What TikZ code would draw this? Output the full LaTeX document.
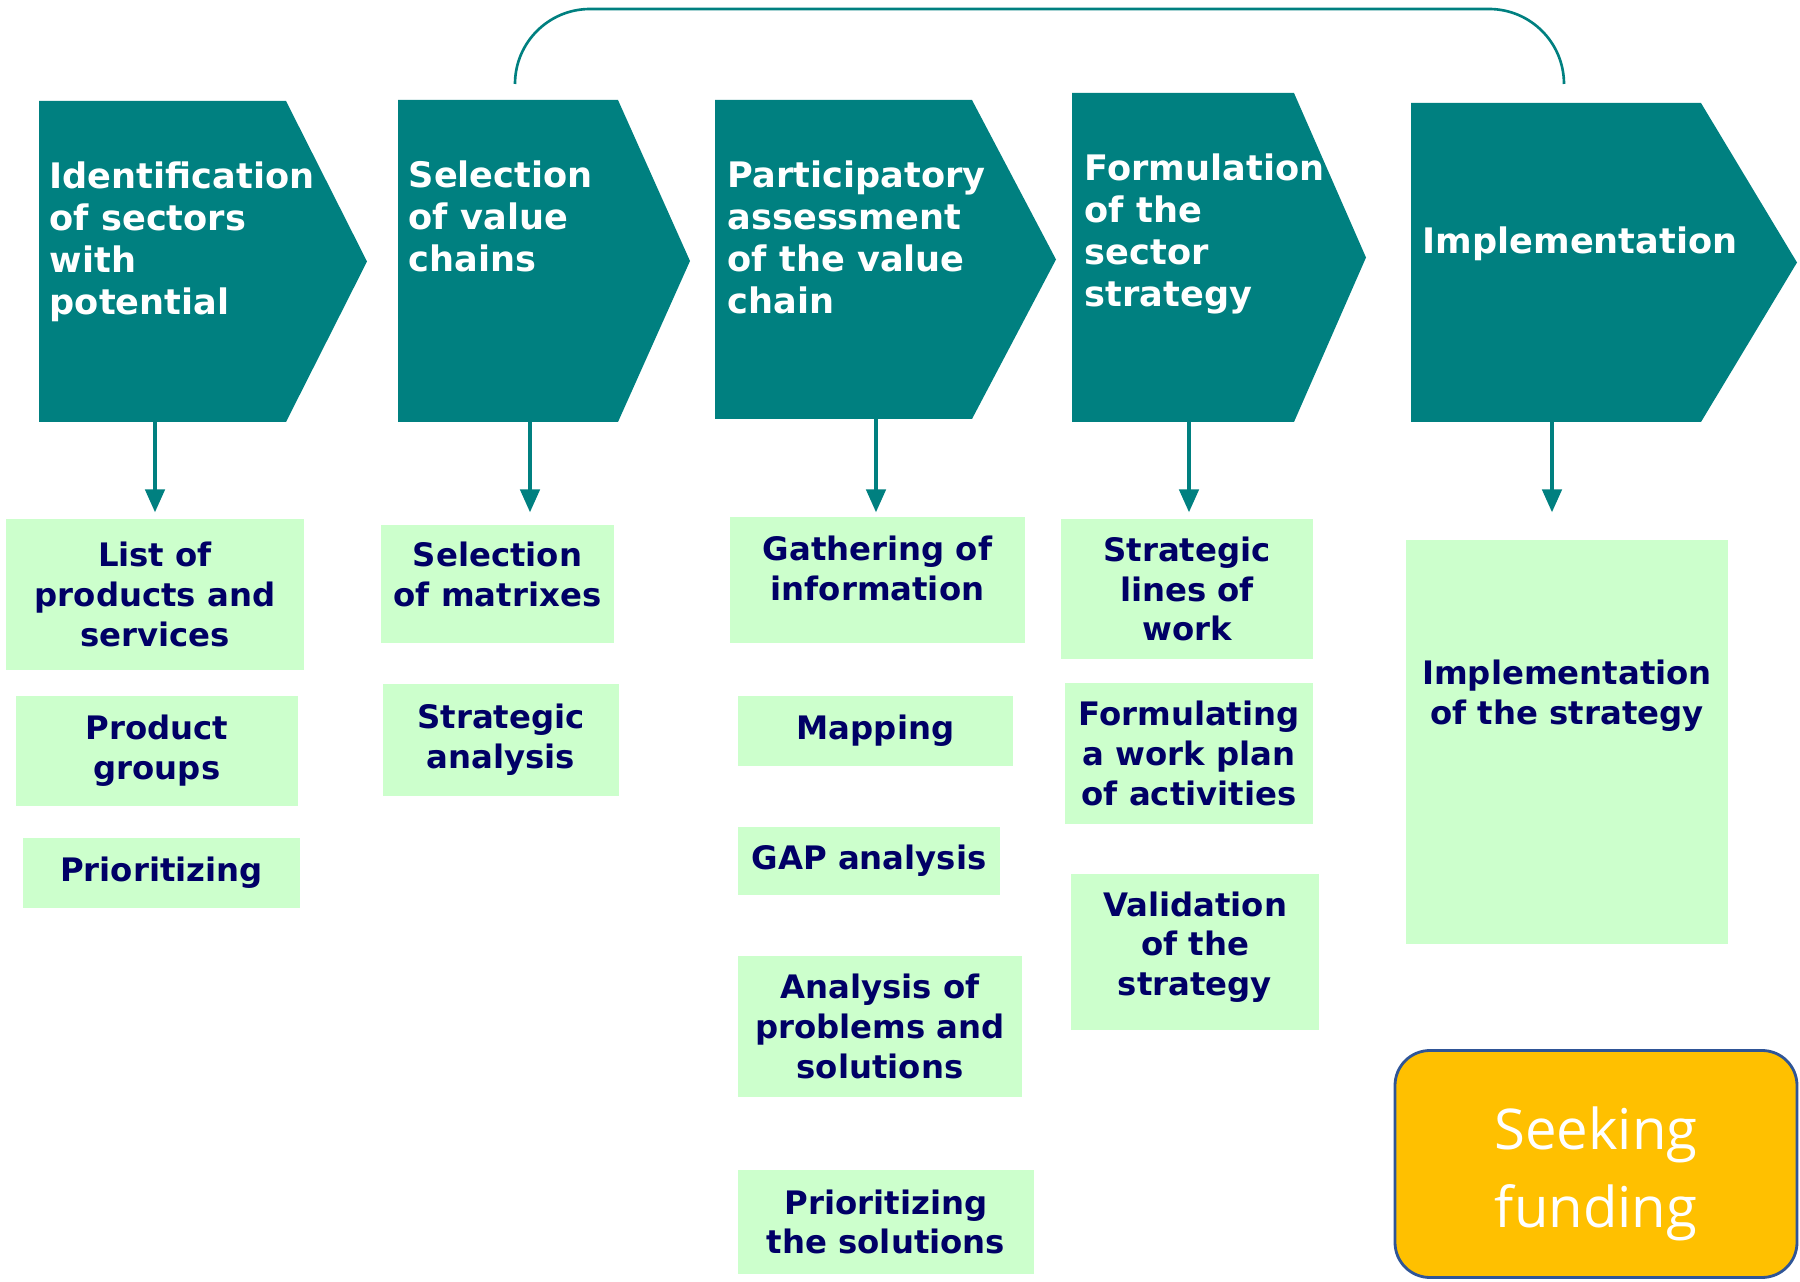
\documentclass[tikz,border=0pt]{standalone}
\usepackage{fontspec}
\setmainfont{DejaVu Sans}
\newfontfamily\fundfont{Open Sans}
\usetikzlibrary{arrows.meta,positioning}

\definecolor{stageteal}{HTML}{008080}
\definecolor{taskgreen}{HTML}{CCFFCC}
\definecolor{tasknavy}{HTML}{000066}
\definecolor{fundgold}{HTML}{FFC000}
\definecolor{fundblue}{HTML}{2F5597}

\begin{document}
\begin{tikzpicture}[>={Triangle[width=5.5pt,length=6.5pt]},
    stage/.style={fill=stageteal},
    stagetext/.style={anchor=north west, inner sep=0pt, align=left, text=white,
        font=\fontsize{10}{12}\selectfont\bfseries},
    task/.style={fill=taskgreen, text=tasknavy, align=center, inner sep=0pt,
        font=\fontsize{9.2}{11.3}\selectfont\bfseries},
    flow/.style={->, stageteal, line width=1pt}]
    \useasboundingbox (0,0) rectangle (18,-12.82);

    % Stage chevrons
    \fill[stage] (0.39,-1.01) -- (2.86,-1.01) -- (3.67,-2.615) -- (2.86,-4.22) -- (0.39,-4.22) -- cycle;
    \fill[stage] (3.98,-1.00) -- (6.18,-1.00) -- (6.90,-2.61) -- (6.18,-4.22) -- (3.98,-4.22) -- cycle;
    \fill[stage] (7.15,-1.00) -- (9.72,-1.00) -- (10.56,-2.595) -- (9.72,-4.19) -- (7.15,-4.19) -- cycle;
    \fill[stage] (10.72,-0.93) -- (12.94,-0.93) -- (13.66,-2.575) -- (12.94,-4.22) -- (10.72,-4.22) -- cycle;
    \fill[stage] (14.11,-1.03) -- (17.01,-1.03) -- (17.97,-2.625) -- (17.01,-4.22) -- (14.11,-4.22) -- cycle;

    % Stage titles
    \node[stagetext] (s1) at (0.49,-1.61) {Identification\\of sectors\\with\\potential};
    \node[stagetext] (s2) at (4.08,-1.60) {Selection\\of value\\chains};
    \node[stagetext] (s3) at (7.27,-1.60) {Participatory\\assessment\\of the value\\chain};
    \node[stagetext] (s4) at (10.84,-1.53) {Formulation\\of the\\sector\\strategy};
    \node[stagetext] (s5) at (14.22,-2.26) {Implementation};

    % Loop over the last four stages
    \coordinate (loopA) at (5.15,-0.84);
    \coordinate (loopB) at (15.64,-0.84);
    \draw[stageteal, line width=0.75pt, rounded corners=0.75cm]
        (loopA) -- (5.15,-0.09) -- (15.64,-0.09) -- (loopB);

    % Feet of the chevrons
    \coordinate (b1) at (1.55,-4.22);
    \coordinate (b2) at (5.30,-4.22);
    \coordinate (b3) at (8.76,-4.19);
    \coordinate (b4) at (11.89,-4.22);
    \coordinate (b5) at (15.52,-4.22);

    % Tasks of stage 1
    \node[task, minimum width=2.98cm, minimum height=1.51cm] (l1) at (1.55,-5.945) {List of\\products and\\services};
    \node[task, minimum width=2.82cm, minimum height=1.10cm] (l2) at (1.57,-7.51) {Product\\groups};
    \node[task, minimum width=2.77cm, minimum height=0.70cm] (l3) at (1.615,-8.73) {Prioritizing};

    % Tasks of stage 2
    \node[task, minimum width=2.33cm, minimum height=1.18cm, text depth=0.2cm] (m1) at (4.975,-5.84) {Selection\\of matrixes};
    \node[task, minimum width=2.36cm, minimum height=1.12cm] (m2) at (5.01,-7.40) {Strategic\\analysis};

    % Tasks of stage 3
    \node[task, minimum width=2.95cm, minimum height=1.26cm, text depth=0.24cm] (p1) at (8.775,-5.80) {Gathering of\\information};
    \node[task, minimum width=2.75cm, minimum height=0.70cm] (p2) at (8.755,-7.31) {Mapping};
    \node[task, minimum width=2.62cm, minimum height=0.68cm] (p3) at (8.69,-8.61) {GAP analysis};
    \node[task, minimum width=2.84cm, minimum height=1.41cm] (p4) at (8.80,-10.265) {Analysis of\\problems and\\solutions};
    \node[task, minimum width=2.96cm, minimum height=1.04cm] (p5) at (8.86,-12.22) {Prioritizing\\the solutions};

    % Tasks of stage 4
    \node[task, minimum width=2.52cm, minimum height=1.40cm] (f1) at (11.87,-5.89) {Strategic\\lines of\\work};
    \node[task, minimum width=2.48cm, minimum height=1.41cm] (f2) at (11.89,-7.535) {Formulating\\a work plan\\of activities};
    \node[task, minimum width=2.48cm, minimum height=1.56cm, text depth=0.17cm] (f3) at (11.95,-9.52) {Validation\\of the\\strategy};

    % Task of stage 5
    \node[task, minimum width=3.22cm, minimum height=4.04cm] (i1) at (15.67,-7.42) {};
    \node[task, fill=none, below=1.2cm of i1.north] (i1text) {Implementation\\of the strategy};

    % Funding box
    \node[fill=fundgold, draw=fundblue, line width=0.8pt, rounded corners=0.35cm,
        minimum width=4.02cm, minimum height=2.27cm, align=center, text=white,
        text height=1.40cm, font=\fundfont\fontsize{16}{22}\selectfont] (fund) at (15.96,-11.64) {Seeking\\funding};

    % Arrows down to the tasks
    \draw[flow, shorten >=0.06cm] (b1) -- (b1 |- l1.north);
    \draw[flow, shorten >=0.12cm] (b2) -- (b2 |- m1.north);
    \draw[flow, shorten >=0.04cm] (b3) -- (b3 |- p1.north);
    \draw[flow, shorten >=0.06cm] (b4) -- (b4 |- f1.north);
    \draw[flow, shorten >=0.27cm] (b5) -- (b5 |- i1.north);
\end{tikzpicture}
\end{document}
